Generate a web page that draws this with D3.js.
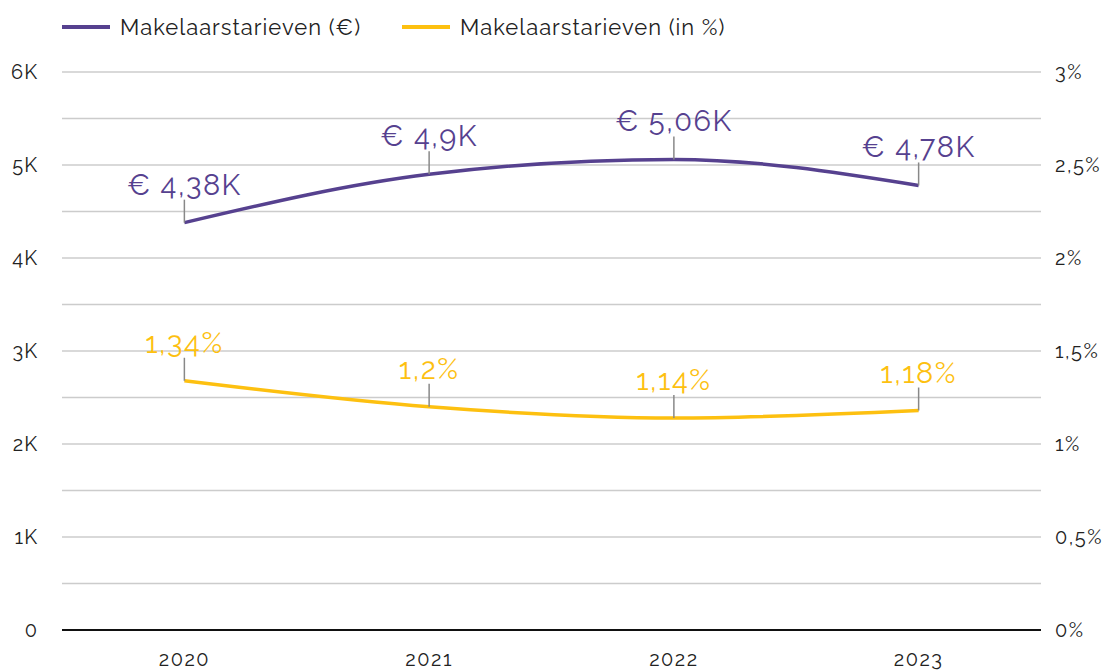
<!DOCTYPE html>
<html><head><meta charset="utf-8">
<script src="https://cdn.jsdelivr.net/npm/d3@7"></script>
<style>body{margin:0;background:#fff;} svg{display:block;font-family:Raleway,Lato,"Open Sans",sans-serif;}</style>
</head><body><svg id="c" width="1105" height="672"></svg>
<script>
const years = ["2020","2021","2022","2023"];
const euroValues = [4380, 4900, 5060, 4780];
const euroLabels = ["€ 4,38K","€ 4,9K","€ 5,06K","€ 4,78K"];
const pctValues = [1.34, 1.2, 1.14, 1.18];
const pctLabels = ["1,34%","1,2%","1,14%","1,18%"];
const leftTicks = [0,1000,2000,3000,4000,5000,6000];
const leftTickLabels = ["0","1K","2K","3K","4K","5K","6K"];
const rightTicks = [0,0.5,1,1.5,2,2.5,3];
const rightTickLabels = ["0%","0,5%","1%","1,5%","2%","2,5%","3%"];
const gridValues = [500,1000,1500,2000,2500,3000,3500,4000,4500,5000,5500,6000];
const seriesNames = ["Makelaarstarieven (€)","Makelaarstarieven (in %)"];

const purple = "#56418f", yellow = "#fdc010";
const svg = d3.select("#c");
const L = 62, R = 1041, T = 72, B = 630;
const x = d3.scaleBand().domain(years).range([L, R]);
const yL = d3.scaleLinear().domain([0,6000]).range([B,T]);
const yR = d3.scaleLinear().domain([0,3]).range([B,T]);
const cx = d => x(d) + x.bandwidth()/2;

// grid
svg.append("g").selectAll("line").data(gridValues).join("line")
  .attr("x1",L).attr("x2",R).attr("y1",d=>yL(d)).attr("y2",d=>yL(d))
  .attr("stroke","#cccccc").attr("stroke-width",1.5);
svg.append("line").attr("x1",L).attr("x2",R).attr("y1",B).attr("y2",B)
  .attr("stroke","#111").attr("stroke-width",2);

// left axis
const ga = d3.axisLeft(yL).tickValues(leftTicks).tickFormat((d,i)=>leftTickLabels[i]).tickSize(0).tickPadding(0);
svg.append("g").attr("transform",`translate(38,0)`).call(ga)
  .call(g=>g.select(".domain").remove())
  .selectAll("text").attr("font-size",20).attr("letter-spacing",1).attr("fill","#222").attr("font-family","Raleway,Lato,sans-serif");
const gr = d3.axisRight(yR).tickValues(rightTicks).tickFormat((d,i)=>rightTickLabels[i]).tickSize(0).tickPadding(0);
svg.append("g").attr("transform",`translate(1055,0)`).call(gr)
  .call(g=>g.select(".domain").remove())
  .selectAll("text").attr("font-size",20).attr("letter-spacing",1.5).attr("fill","#222").attr("font-family","Raleway,Lato,sans-serif");
const gb = d3.axisBottom(x).tickSize(0).tickPadding(0);
svg.append("g").attr("transform",`translate(0,${B+29})`).call(gb)
  .call(g=>g.select(".domain").remove())
  .selectAll("text").attr("font-size",20).attr("letter-spacing",1.5).attr("fill","#222").attr("dy","0.35em").attr("font-family","Raleway,Lato,sans-serif");

// lines
const lineE = d3.line().x((d,i)=>cx(years[i])).y(d=>yL(d)).curve(d3.curveMonotoneX);
const lineP = d3.line().x((d,i)=>cx(years[i])).y(d=>yR(d)).curve(d3.curveMonotoneX);
svg.append("path").attr("d",lineE(euroValues)).attr("fill","none").attr("stroke",purple).attr("stroke-width",3.5);
svg.append("path").attr("d",lineP(pctValues)).attr("fill","none").attr("stroke",yellow).attr("stroke-width",3.5);

// labels with leaders
function labels(vals, labs, ys, color){
  const g = svg.append("g");
  g.selectAll("line").data(vals).join("line")
    .attr("x1",(d,i)=>cx(years[i])).attr("x2",(d,i)=>cx(years[i]))
    .attr("y1",d=>ys(d)).attr("y2",d=>ys(d)-23)
    .attr("stroke","#888").attr("stroke-width",1.5);
  g.selectAll("text").data(vals).join("text")
    .attr("x",(d,i)=>cx(years[i])).attr("y",d=>ys(d)-28)
    .attr("text-anchor","middle").attr("font-size",29).attr("letter-spacing",1.5).attr("fill",color)
    .text((d,i)=>labs[i]);
}
labels(euroValues, euroLabels, yL, purple);
labels(pctValues, pctLabels, yR, yellow);

// legend
const leg = svg.append("g");
[[62,purple],[402,yellow]].forEach(([lx,c],i)=>{
  leg.append("line").attr("x1",lx).attr("x2",lx+48).attr("y1",27).attr("y2",27).attr("stroke",c).attr("stroke-width",4);
  leg.append("text").attr("x",lx+58).attr("y",27).attr("dy","0.35em").attr("font-size",22).attr("letter-spacing",1).attr("fill","#222").text(seriesNames[i]);
});
</script></body></html>
